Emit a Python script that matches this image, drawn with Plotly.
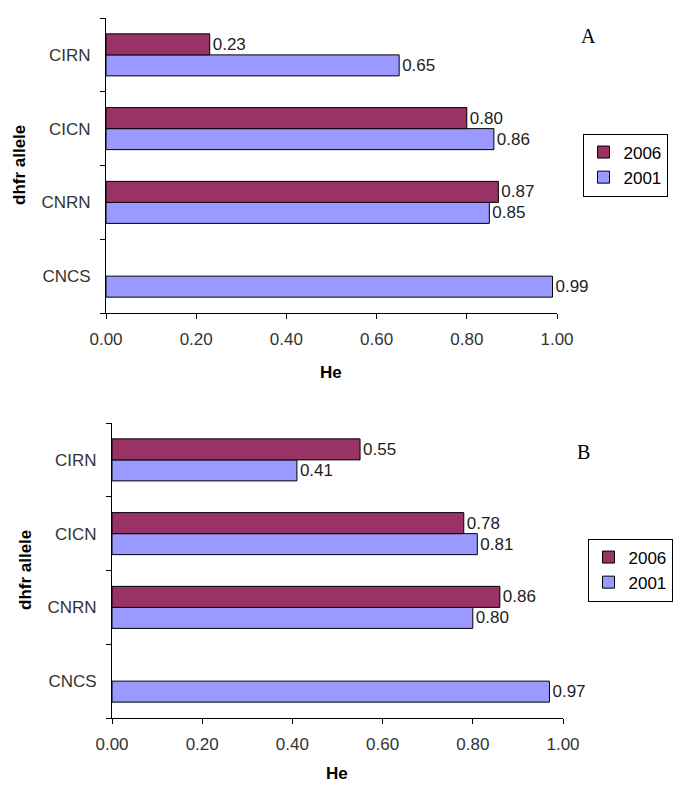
import plotly.graph_objects as go

categories = ["CIRN", "CICN", "CNRN", "CNCS"]
a_2006 = [0.23, 0.80, 0.87, None]
a_2001 = [0.65, 0.86, 0.85, 0.99]
b_2006 = [0.55, 0.78, 0.86, None]
b_2001 = [0.41, 0.81, 0.80, 0.97]
x_ticks = [0.0, 0.2, 0.4, 0.6, 0.8, 1.0]
x_tick_labels = ["0.00", "0.20", "0.40", "0.60", "0.80", "1.00"]

C2006 = "#993366"
C2001 = "#9999FF"
FONT = "Liberation Sans, Arial, sans-serif"
SERIF = "Liberation Serif, Times New Roman, serif"
FS = 17

# page has an 8px body margin; figure sized to fit the 685x798 window
OFF = 8
W, H = 685 - OFF, 798 - OFF


def px(x):
    return (x - OFF) / W


def py(y):
    return 1 - (y - OFF) / H


fig = go.Figure()


def add_panel(v2006, v2001, xa, ya, legend):
    for name, vals, col in (("2001", v2001, C2001), ("2006", v2006, C2006)):
        fig.add_trace(go.Bar(
            y=categories, x=vals, orientation="h", name=name,
            marker=dict(color=col, line=dict(color="black", width=1)),
            text=[None if v is None else f"{v:.2f}" for v in vals],
            textposition="outside", cliponaxis=False,
            textfont=dict(family=FONT, size=FS, color="#222"),
            xaxis=xa, yaxis=ya, legend=legend, showlegend=True,
        ))


add_panel(a_2006, a_2001, "x", "y", "legend")
add_panel(b_2006, b_2001, "x2", "y2", "legend2")


def xaxis_def(domain, anchor):
    return dict(
        domain=domain, anchor=anchor, range=[0, 1.0], automargin=False,
        tickvals=x_ticks, ticktext=x_tick_labels,
        showgrid=False, zeroline=False,
        showline=True, linecolor="black", linewidth=1,
        ticks="outside", ticklen=5, tickcolor="black",
        tickfont=dict(family=FONT, size=FS, color="#333"),
        ticklabelstandoff=6,
    )


def yaxis_def(domain, anchor):
    return dict(
        domain=domain, anchor=anchor, automargin=False,
        categoryorder="array", categoryarray=categories[::-1],
        showgrid=False, zeroline=False,
        showline=True, linecolor="black", linewidth=1,
        ticks="outside", ticklen=5, tickcolor="black", tickson="boundaries",
        tickfont=dict(family=FONT, size=FS, color="#333"),
        ticklabelstandoff=11,
    )


def legend_def(xc, yc):
    return dict(
        x=px(xc), y=py(yc), xanchor="center", yanchor="middle",
        bordercolor="black", borderwidth=1, bgcolor="white",
        traceorder="reversed", font=dict(family=FONT, size=FS, color="black"),
        itemwidth=30, tracegroupgap=0,
    )


def txt(s, x, y, family=FONT, size=FS, angle=0):
    return dict(text=s, x=px(x), y=py(y), xref="paper", yref="paper",
                xanchor="center", yanchor="middle",
                showarrow=False, textangle=angle,
                font=dict(family=family, size=size, color="black"))


fig.update_layout(
    width=W, height=H,
    margin=dict(l=0, r=0, t=0, b=0, autoexpand=False),
    paper_bgcolor="white", plot_bgcolor="white",
    barmode="group", bargap=0.43, bargroupgap=0,
    showlegend=True,
    xaxis=xaxis_def([px(106), px(557)], "y"),
    yaxis=yaxis_def([py(313), py(18)], "x"),
    xaxis2=xaxis_def([px(112), px(563)], "y2"),
    yaxis2=yaxis_def([py(718), py(423)], "x2"),
    legend=legend_def(625, 165),
    legend2=legend_def(630, 570),
    annotations=[
        txt("A", 588, 36, SERIF, 20),
        txt("B", 583, 452, SERIF, 20),
        txt("<b>He</b>", 331, 372),
        txt("<b>He</b>", 337, 773),
        txt("<b>dhfr allele</b>", 20, 165, angle=-90),
        txt("<b>dhfr allele</b>", 25, 570, angle=-90),
    ],
)

fig.write_html("out.html")
